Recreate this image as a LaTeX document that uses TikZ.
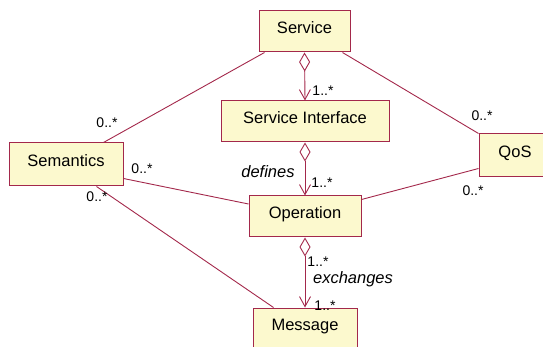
\documentclass[tikz,border=0pt]{standalone}
\usepackage{fontspec}
\setmainfont{Liberation Sans}
\usetikzlibrary{arrows.meta}
\definecolor{umlline}{HTML}{A3284B}
\definecolor{umlfill}{HTML}{FCF9CE}

\begin{document}
\begin{tikzpicture}[x=1pt,y=-1pt,
  classbox/.style={rectangle,draw=umlline,fill=umlfill,line width=1pt,inner sep=0pt,
    text height=12pt,text depth=8pt,font=\fontsize{16.5}{19}\selectfont},
  assoc/.style={draw=umlline,line width=0.9pt},
  aggr/.style={draw=umlline,line width=0.9pt,
    {Diamond[open,length=19pt,width=11pt]}-{Straight Barb[length=10pt,width=11pt]}},
  mult/.style={inner sep=0pt,font=\fontsize{14}{16}\selectfont},
  role/.style={inner sep=0pt,font=\fontsize{16.5}{19}\selectfont\itshape}]
\useasboundingbox (0,0) rectangle (543,347);
\clip (0,0) rectangle (543,347);
\node[classbox,minimum width=91pt,minimum height=41pt] (svc) at (304.5,31.5) {Service};
\node[classbox,minimum width=168pt,minimum height=41pt] (si) at (305,121.5) {Service Interface};
\node[classbox,minimum width=114pt,minimum height=43pt] (sem) at (66,164.5) {Semantics};
\node[classbox,minimum width=72pt,minimum height=43pt] (qos) at (515,155.5) {QoS};
\node[classbox,minimum width=112pt,minimum height=41pt] (op) at (305,216.5) {Operation};
\node[classbox,minimum width=104pt,minimum height=41pt] (msg) at (305,328.5) {Message};
\draw[assoc] ([xshift=6pt]svc.south west) -- ([xshift=-20pt]sem.north east);
\draw[assoc] ([xshift=-8pt]svc.south east) -- (qos.north west);
\draw[assoc] ([yshift=8pt]sem.south east) -- ([yshift=12.5pt]op.west);
\draw[assoc] ([yshift=9pt]qos.south west) -- ([yshift=-4pt]op.north east);
\draw[assoc] ([xshift=-27pt]sem.south east) -- ([xshift=21pt]msg.north west);
\draw[aggr] (svc.south) -- (si.north);
\draw[aggr] (si.south) -- (op.north);
\draw[aggr] (op.south) -- (msg.north);
\node[mult] (semsvc) at (107,123) {0..*};
\node[mult] (semop) at (142,169) {0..*};
\node[mult] (semmsg) at (97,197) {0..*};
\node[mult] (qossvc) at (482,116) {0..*};
\node[mult] (qosop) at (473,191) {0..*};
\node[mult] (sisvc) at (323,91) {1..*};
\node[mult] (opsi) at (322,183) {1..*};
\node[mult] (msgop) at (318,262) {1..*};
\node[mult] (msgin) at (325,306) {1..*};
\node[role] (defines) at (268,172) {defines};
\node[role] (exchanges) at (353,279) {exchanges};
\end{tikzpicture}
\end{document}
